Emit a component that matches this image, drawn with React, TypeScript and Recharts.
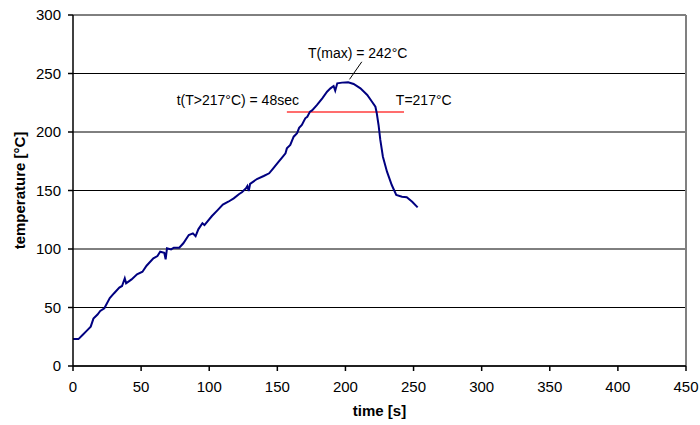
import {
  LineChart,
  Line,
  XAxis,
  YAxis,
  CartesianGrid,
  ReferenceLine,
  ReferenceDot,
} from "recharts"

// measured reflow profile: time [s] and temperature [°C]
const times = [
  0, 4, 7, 10, 13, 15, 18, 20, 23, 27, 30, 34, 36, 38, 39, 43, 47, 51, 54, 59,
  62, 64, 67, 68, 69, 72, 74, 78, 81, 85, 88, 90, 92, 95, 96.5, 102, 106, 110,
  114, 118, 122, 124, 127, 128, 129, 130, 135, 140, 144, 147, 151, 153, 156,
  157, 159.5, 162, 164.5, 166, 168, 170.5, 172, 174, 175.5, 179, 183, 186.5,
  189, 191.3, 192.5, 194, 197.5, 202, 206, 211, 216, 219.5, 222, 223, 224.3,
  225.6, 227.5, 230.5, 234, 237.3, 241.5, 245, 249, 253,
]
const temps = [
  23, 23, 26.5, 30, 33.6, 40.5, 44, 47, 49.3, 58, 62, 67, 68.4, 75, 70.7, 74,
  78.4, 80.6, 85.7, 92, 94, 97.7, 96.8, 91.2, 100.6, 99.7, 101.1, 101.1, 104.9,
  112, 113.4, 111, 116.8, 122, 120.5, 128.2, 133, 138, 140.4, 143.3, 147, 148.5,
  151.9, 153.8, 149.6, 155.6, 159.8, 162.4, 164.7, 169, 174.6, 177.5, 181.8,
  186, 188.9, 196, 199, 203.5, 206, 211.7, 213, 217.4, 218.5, 223, 228.8,
  234.4, 237.3, 239.3, 235.3, 241.6, 242.2, 242.5, 241, 237.3, 231.6, 225.9,
  221.6, 216, 206, 193.2, 178.9, 166.1, 154.7, 146.2, 144.7, 144.2, 140.4,
  135.6,
]

const xTicks = [0, 50, 100, 150, 200, 250, 300, 350, 400, 450]
const yTicks = [0, 50, 100, 150, 200, 250, 300]

// liquidus line (T=217°C) between start / end of time above liquidus
const liquidusTemp = 217
const liquidusStart = 157
const liquidusEnd = 243

// annotation texts and their anchor points (data coords)
const noteTexts = ["T(max) = 242°C", "t(T>217°C) = 48sec", "T=217°C"]
const noteX = [209, 121, 257.5]
const noteY = [267.5, 227.5, 227.5]
const leaderX = [212, 203]
const leaderY = [260, 245]

const data = times.map((t, i) => ({ t, temp: temps[i] }))

const FONT = '"Liberation Sans", Arial, sans-serif'

export default function App() {
  return (
    <div style={{ position: "absolute", left: 0, top: 0, fontFamily: FONT }}>
      <LineChart
        width={700}
        height={425}
        data={data}
        margin={{ top: 15, right: 14, left: 0, bottom: 9 }}
      >
        <CartesianGrid vertical={false} stroke="#000" strokeOpacity={1} />
        <XAxis
          type="number"
          dataKey="t"
          domain={[0, 450]}
          ticks={xTicks}
          interval={0}
          height={50}
          stroke="#000"
          strokeWidth={1.5}
          tickSize={5}
          tickMargin={10}
          tick={{ fontSize: 15, fill: "#000", fontFamily: FONT }}
          label={{
            content: (p: any) => (
              <text
                x={p.viewBox.x + p.viewBox.width / 2}
                y={p.viewBox.y + 44}
                textAnchor="middle"
                dominantBaseline="central"
                fontSize={15}
                fontWeight="bold"
                fontFamily={FONT}
                fill="#000"
              >
                time [s]
              </text>
            ),
          }}
        />
        <YAxis
          type="number"
          domain={[0, 300]}
          ticks={yTicks}
          interval={0}
          width={73}
          stroke="#000"
          strokeWidth={1.5}
          tickSize={5}
          tickMargin={7}
          tick={{ fontSize: 15, fill: "#000", fontFamily: FONT }}
          label={{
            content: (p: any) => {
              const cx = p.viewBox.x + 19
              const cy = p.viewBox.y + p.viewBox.height / 2
              return (
                <text
                  x={cx}
                  y={cy}
                  transform={`rotate(-90 ${cx} ${cy})`}
                  textAnchor="middle"
                  dominantBaseline="central"
                  fontSize={15}
                  fontWeight="bold"
                  fontFamily={FONT}
                  fill="#000"
                >
                  temperature [°C]
                </text>
              )
            },
          }}
        />
        <ReferenceLine x={450} stroke="#808080" strokeWidth={2} />
        <ReferenceLine
          segment={[
            { x: liquidusStart, y: liquidusTemp },
            { x: liquidusEnd, y: liquidusTemp },
          ]}
          stroke="#ff3c3c"
          strokeWidth={1.5}
        />
        <ReferenceLine
          segment={[
            { x: leaderX[0], y: leaderY[0] },
            { x: leaderX[1], y: leaderY[1] },
          ]}
          stroke="#000"
          strokeWidth={1}
        />
        <Line
          type="linear"
          dataKey="temp"
          stroke="#000080"
          strokeWidth={2}
          dot={false}
          isAnimationActive={false}
        />
        {noteTexts.map((txt, i) => (
          <ReferenceDot
            key={txt}
            x={noteX[i]}
            y={noteY[i]}
            r={0}
            ifOverflow="visible"
            shape={(p: any) => (
              <text
                x={p.cx}
                y={p.cy}
                textAnchor="middle"
                dominantBaseline="central"
                fontSize={14}
                fontFamily={FONT}
                fill="#000"
              >
                {txt}
              </text>
            )}
          />
        ))}
      </LineChart>
    </div>
  )
}
